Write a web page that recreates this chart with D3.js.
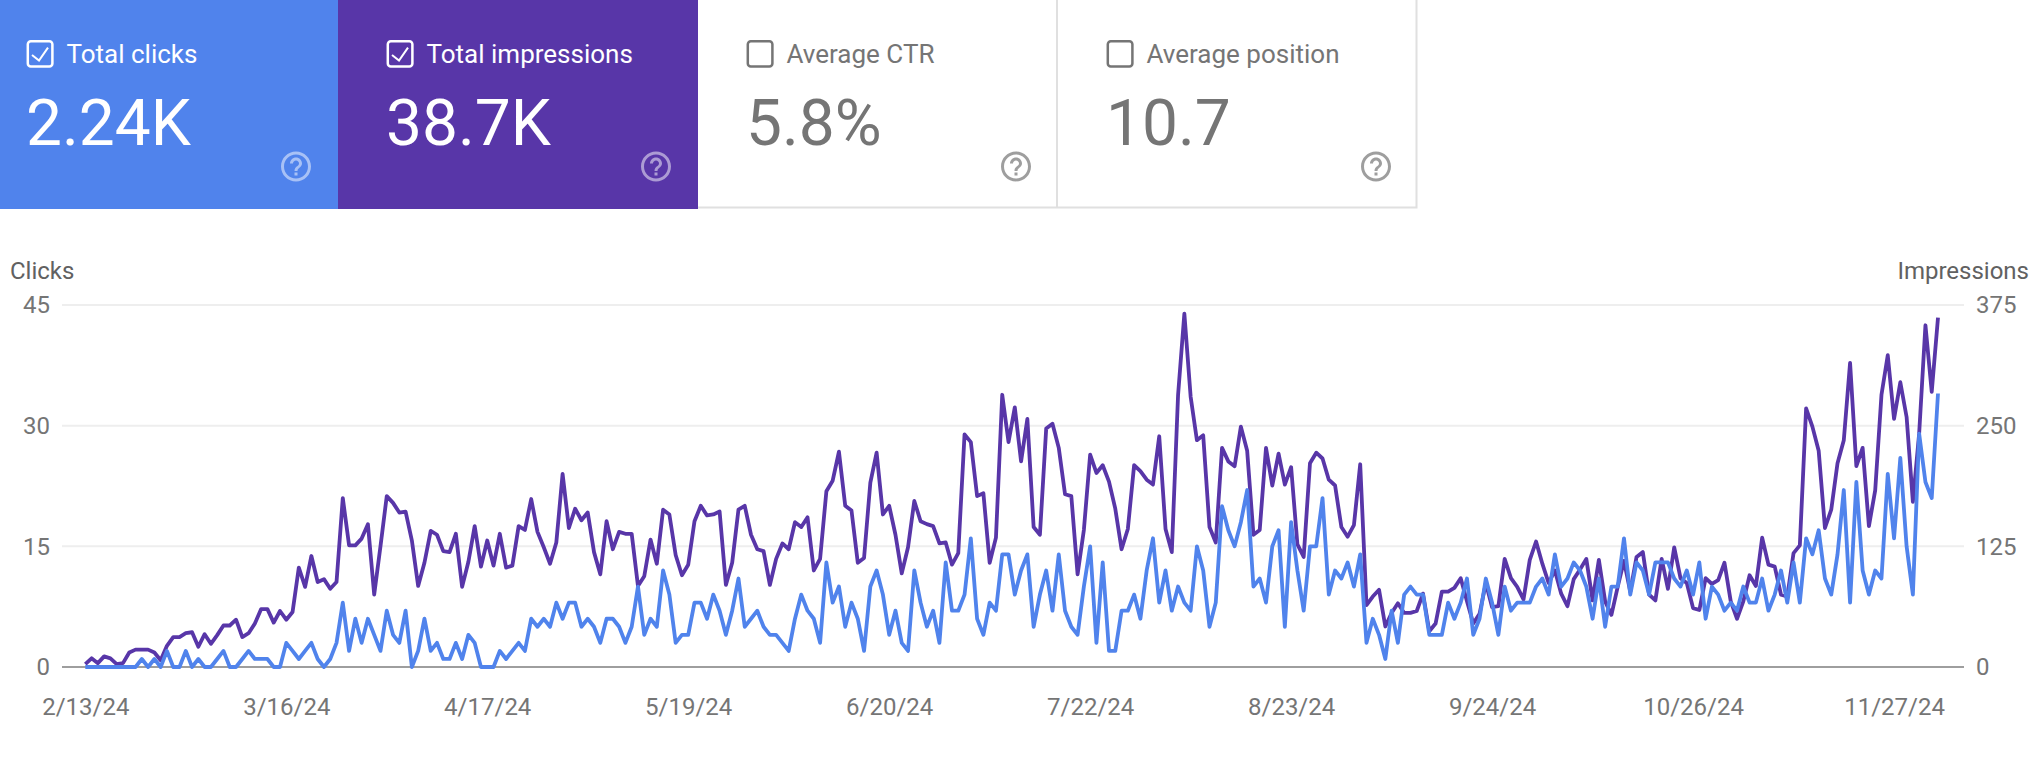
<!DOCTYPE html>
<html>
<head>
<meta charset="utf-8">
<script src="https://cdn.jsdelivr.net/npm/d3@7"></script>
<style>
  html, body { margin: 0; background: #fff; }
  svg { display: block; }
  text { font-family: Roboto, sans-serif; }
</style>
</head>
<body>
<svg id="chart"></svg>
<script>
var width = 2044,
    height = 762;

var cardTitles = ["Total clicks", "Total impressions", "Average CTR", "Average position"];
var cardValues = ["2.24K", "38.7K", "5.8%", "10.7"];
var cardChecked = [true, true, false, false];
var cardColors = ["#5083ec", "#5836a8", "#fff", "#fff"];

var clickTicks = [0, 15, 30, 45];
var impressionTicks = [0, 125, 250, 375];
var dateLabels = ["2024-02-13", "2024-03-16", "2024-04-17", "2024-05-19", "2024-06-20",
                  "2024-07-22", "2024-08-23", "2024-09-24", "2024-10-26", "2024-11-27"];
var firstDay = "2024-02-13";

// daily values
var clicks = [
    0,0,0,0,0,0,0,0,0,1,
    0,1,0,2,0,0,2,0,1,0,
    0,1,2,0,0,1,2,1,1,1,
    0,0,3,2,1,2,3,1,0,1,
    3,8,2,6,3,6,4,2,7,4,
    3,7,0,2,6,2,3,1,1,3,
    1,4,3,0,0,0,2,1,2,3,
    2,6,5,6,5,8,6,8,8,5,
    6,5,3,6,6,5,3,5,10,4,
    6,5,12,9,3,4,4,8,8,6,
    9,7,4,7,11,5,6,7,5,4,
    4,3,2,6,9,7,6,3,13,8,
    10,5,8,6,2,10,12,9,4,7,
    3,2,12,8,5,7,3,13,7,7,
    9,16,6,4,8,7,14,14,9,12,
    14,5,9,12,7,14,7,5,4,10,
    15,3,13,2,2,7,7,9,6,12,
    16,8,12,7,10,8,7,15,12,5,
    8,20,17,15,18,22,10,11,8,15,
    17,5,18,12,7,15,15,21,9,12,
    11,13,10,14,3,6,4,1,7,3,
    9,10,9,9,4,4,4,8,6,8,
    11,4,6,11,8,4,10,7,8,8,
    8,10,11,9,14,10,11,13,12,10,
    6,11,5,10,10,16,9,13,12,9,
    13,13,13,11,10,12,9,13,6,10,
    9,7,8,7,10,8,8,11,7,9,
    12,8,13,8,16,14,17,11,9,14,
    22,8,23,12,9,12,11,24,16,26,
    15,9,29,23,21,34
];

var impressions = [
    3,9,4,11,9,3,4,15,18,18,
    18,15,7,22,31,31,35,36,21,34,
    24,33,43,43,49,31,35,45,60,60,
    46,58,49,57,103,83,115,88,91,81,
    88,175,126,126,133,148,75,125,177,170,
    160,161,131,84,108,141,137,120,119,138,
    83,109,146,104,131,105,138,103,105,146,
    142,174,140,124,107,129,200,144,164,152,
    160,119,96,151,122,140,138,138,84,94,
    132,107,163,158,116,95,106,151,167,157,
    158,161,85,108,163,167,137,122,120,85,
    112,128,122,150,145,155,100,112,182,193,
    223,167,162,108,113,191,222,158,167,137,
    97,124,172,151,148,146,128,129,106,118,
    241,233,177,180,108,134,282,233,269,213,
    257,145,137,247,252,227,179,177,96,142,
    220,201,209,192,164,122,143,209,203,194,
    189,239,143,119,282,366,280,235,240,145,
    129,227,213,208,249,224,137,142,227,188,
    221,189,207,127,114,211,222,216,194,188,
    145,135,147,210,64,73,80,42,56,66,
    56,56,58,76,37,45,78,78,82,92,
    68,45,55,87,62,63,112,92,83,70,
    111,130,107,87,100,76,63,91,101,112,
    69,111,68,54,83,110,78,114,119,75,
    69,112,81,124,92,87,61,59,92,86,
    90,108,68,50,68,95,84,134,106,104,
    75,73,118,126,268,249,224,144,163,211,
    235,315,208,227,146,183,282,323,257,295,
    259,171,242,354,285,362
];

var helpIcon = "M11 18h2v-2h-2v2zm1-16C6.48 2 2 6.48 2 12s4.48 10 10 10 10-4.48 10-10S17.52 2 12 2zm0 18c-4.41 0-8-3.59-8-8s3.59-8 8-8 8 3.59 8 8-3.59 8-8 8zm0-14c-2.21 0-4 1.79-4 4h2c0-1.1.9-2 2-2s2 .9 2 2c0 2-3 1.75-3 5h2c0-2.25 3-2.5 3-5 0-2.21-1.79-4-4-4z";

var svg = d3.select("#chart")
    .attr("width", width)
    .attr("height", height);

// --- cards ---
var cardLeft = -22,
    cardWidth = 360,
    cardHeight = 208;

// border of the white cards goes under the filled ones
svg.append("path")
    .attr("d", "M698,207.5H1416.5V-2M1057,0V207.5")
    .attr("fill", "none")
    .attr("stroke", "#e0e0e0")
    .attr("stroke-width", 2);

var card = svg.selectAll("g.card")
    .data(cardTitles)
    .enter().append("g")
        .attr("class", "card")
        .attr("transform", function(d, i) { return "translate(" + (cardLeft + i * cardWidth) + ",0)"; });

card.append("rect")
    .filter(function(d, i) { return cardChecked[i]; })
    .attr("width", cardWidth)
    .attr("height", cardHeight + 1)
    .attr("fill", function(d, i) { return cardColors[i]; });

card.append("rect")
    .attr("x", 49.8)
    .attr("y", 41.2)
    .attr("width", 24.6)
    .attr("height", 25.4)
    .attr("rx", 3)
    .attr("fill", "none")
    .attr("stroke-width", 2.5)
    .attr("stroke", function(d, i) { return cardChecked[i] ? "#fff" : "#757575"; });

card.filter(function(d, i) { return cardChecked[i]; })
    .append("path")
    .attr("d", "M54,55L61,60.5L70,47.7")
    .attr("fill", "none")
    .attr("stroke", "#fff")
    .attr("stroke-width", 2);

card.append("text")
    .attr("x", 88.5)
    .attr("y", 62.5)
    .attr("font-size", 26)
    .attr("fill", function(d, i) { return cardChecked[i] ? "#fff" : "#757575"; })
    .text(function(d) { return d; });

card.append("text")
    .attr("x", 48)
    .attr("y", 145)
    .attr("font-size", 64)
    .attr("fill", function(d, i) { return cardChecked[i] ? "#fff" : "#757575"; })
    .text(function(d, i) { return cardValues[i]; });

card.append("path")
    .attr("d", helpIcon)
    .attr("transform", "translate(300,148.5) scale(1.5)")
    .attr("fill", function(d, i) { return cardChecked[i] ? "#fff" : "#757575"; })
    .attr("fill-opacity", function(d, i) { return cardChecked[i] ? 0.5 : 0.7; });

// --- chart ---
var parseDay = d3.utcParse("%Y-%m-%d"),
    formatDay = d3.utcFormat("%-m/%-d/%y");

var start = parseDay(firstDay);
var days = clicks.map(function(d, i) { return d3.utcDay.offset(start, i); });

var x = d3.scaleUtc()
    .domain([days[0], days[days.length - 1]])
    .range([85.3, 1938]);
var yClicks = d3.scaleLinear()
    .domain([0, 45])
    .range([667, 305]);
var yImpressions = d3.scaleLinear()
    .domain([0, 375])
    .range([667, 305]);

// gridlines
svg.append("g")
    .selectAll("line")
    .data(clickTicks)
    .enter().append("line")
        .attr("x1", 62)
        .attr("x2", 1964)
        .attr("y1", function(d) { return yClicks(d); })
        .attr("y2", function(d) { return yClicks(d); })
        .attr("stroke", function(d) { return d == 0 ? "#9e9e9e" : "#eeeeee"; })
        .attr("stroke-width", 2);

// axes, only their labels are visible
function styleAxis(g) {
    g.select(".domain").remove();
    g.selectAll(".tick line").remove();
    g.selectAll("text")
        .attr("font-family", "Roboto, sans-serif")
        .attr("font-size", 24)
        .attr("fill", "#757575");
}

svg.append("g")
    .attr("transform", "translate(50,0)")
    .call(d3.axisLeft(yClicks).tickValues(clickTicks).tickSize(0).tickPadding(0))
    .call(styleAxis);

svg.append("g")
    .attr("transform", "translate(1976,0)")
    .call(d3.axisRight(yImpressions).tickValues(impressionTicks).tickSize(0).tickPadding(0))
    .call(styleAxis);

svg.append("g")
    .attr("transform", "translate(0,698)")
    .call(d3.axisBottom(x).tickValues(dateLabels.map(parseDay)).tickFormat(formatDay).tickSize(0).tickPadding(0))
    .call(styleAxis);

svg.append("text")
    .attr("x", 10)
    .attr("y", 279)
    .attr("font-size", 24)
    .attr("fill", "#616161")
    .text("Clicks");

svg.append("text")
    .attr("x", 2029)
    .attr("y", 279)
    .attr("text-anchor", "end")
    .attr("font-size", 24)
    .attr("fill", "#616161")
    .text("Impressions");

// lines, clicks on top
var impressionLine = d3.line()
    .x(function(d, i) { return x(days[i]); })
    .y(function(d) { return yImpressions(d); });
var clickLine = d3.line()
    .x(function(d, i) { return x(days[i]); })
    .y(function(d) { return yClicks(d); });

svg.append("path")
    .attr("d", impressionLine(impressions))
    .attr("fill", "none")
    .attr("stroke", cardColors[1])
    .attr("stroke-width", 3.8)
    .attr("stroke-linejoin", "round");

svg.append("path")
    .attr("d", clickLine(clicks))
    .attr("fill", "none")
    .attr("stroke", cardColors[0])
    .attr("stroke-width", 3.8)
    .attr("stroke-linejoin", "round");
</script>
</body>
</html>
